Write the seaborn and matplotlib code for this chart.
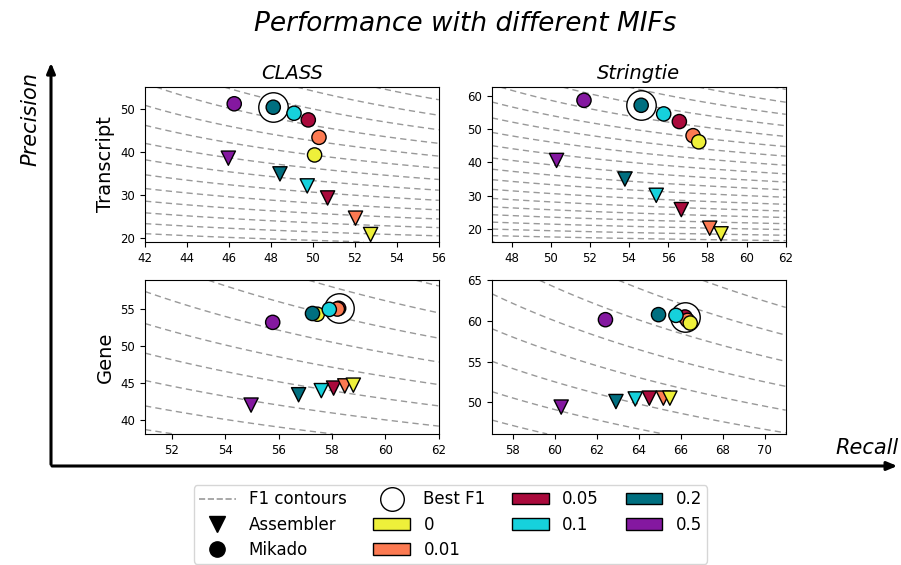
import numpy as np
import pandas as pd
import matplotlib
matplotlib.use("Agg")
import matplotlib.pyplot as plt
import seaborn as sns
from matplotlib.lines import Line2D
from matplotlib.patches import Patch

# MIF levels and their colours
mifs = ["0", "0.01", "0.05", "0.1", "0.2", "0.5"]
mif_colors = ["#eef03a", "#fc7a52", "#aa0a3c", "#16d1dc", "#006f80", "#8418a0"]

# recall / precision per MIF (order as in mifs)
class_tx_asm_rec = [52.75, 52.03, 50.70, 49.73, 48.43, 45.97]
class_tx_asm_pre = [20.8, 24.6, 29.3, 32.1, 34.9, 38.55]
class_tx_mik_rec = [50.08, 50.29, 49.78, 49.10, 48.11, 46.25]
class_tx_mik_pre = [39.3, 43.4, 47.45, 49.0, 50.4, 51.2]

str_tx_asm_rec = [58.70, 58.12, 56.67, 55.39, 53.79, 50.30]
str_tx_asm_pre = [18.5, 20.2, 25.8, 30.1, 35.0, 40.6]
str_tx_mik_rec = [57.56, 57.27, 56.57, 55.77, 54.62, 51.70]
str_tx_mik_pre = [46.2, 48.05, 52.3, 54.6, 57.2, 58.7]

class_gene_asm_rec = [58.80, 58.48, 58.06, 57.60, 56.75, 54.97]
class_gene_asm_pre = [44.7, 44.6, 44.3, 43.96, 43.4, 42.0]
class_gene_mik_rec = [57.45, 58.20, 58.25, 57.90, 57.27, 55.78]
class_gene_mik_pre = [54.3, 55.0, 55.1, 54.95, 54.4, 53.2]

str_gene_asm_rec = [65.48, 65.17, 64.50, 63.83, 62.91, 60.30]
str_gene_asm_pre = [50.5, 50.5, 50.5, 50.4, 50.08, 49.4]
str_gene_mik_rec = [66.45, 66.32, 66.20, 65.77, 64.94, 62.41]
str_gene_mik_pre = [59.74, 60.07, 60.48, 60.68, 60.77, 60.15]

# which MIF gives the best F1 among Mikado runs
best_mif = {"class_tx": "0.2", "str_tx": "0.2", "class_gene": "0.05", "str_gene": "0.05"}

panels = [
    ("class_tx", "CLASS", "Transcript", (42, 56), (19.1, 55.1), np.arange(42, 57, 2),
     class_tx_asm_rec, class_tx_asm_pre, class_tx_mik_rec, class_tx_mik_pre),
    ("str_tx", "Stringtie", None, (47, 62), (16.1, 62.7), np.arange(48, 63, 2),
     str_tx_asm_rec, str_tx_asm_pre, str_tx_mik_rec, str_tx_mik_pre),
    ("class_gene", None, "Gene", (51, 62), (38.1, 58.9), np.arange(52, 63, 2),
     class_gene_asm_rec, class_gene_asm_pre, class_gene_mik_rec, class_gene_mik_pre),
    ("str_gene", None, None, (57, 71), (46.1, 65), np.arange(58, 71, 2),
     str_gene_asm_rec, str_gene_asm_pre, str_gene_mik_rec, str_gene_mik_pre),
]

# drawing order for overlapping points
draw_order = ["0.05", "0.01", "0", "0.1", "0.2", "0.5"]

sns.set_style("ticks", {"axes.edgecolor": "black", "text.color": "black",
                        "xtick.color": "black", "ytick.color": "black",
                        "axes.labelcolor": "black"})
plt.rcParams['font.family'] = ['DejaVu Sans']

fig = plt.figure(figsize=(9.01, 5.65), dpi=100)
positions = [
    [0.161, 0.572, 0.326, 0.274],
    [0.546, 0.572, 0.326, 0.274],
    [0.161, 0.232, 0.326, 0.272],
    [0.546, 0.232, 0.326, 0.272],
]
palette = dict(zip(mifs, mif_colors))

for pos, (key, title, ylab, xlim, ylim, xticks, ar, ap, mr, mp) in zip(positions, panels):
    ax = fig.add_axes(pos)
    # F1 contours
    gx, gy = np.meshgrid(np.linspace(xlim[0], xlim[1], 200), np.linspace(ylim[0], ylim[1], 200))
    f1 = 2 * gx * gy / (gx + gy)
    ax.contour(gx, gy, f1, levels=np.arange(0, 101, 2), colors="#999999",
               linestyles=[(0, (4.5, 3))], linewidths=1.0, zorder=1)

    df = pd.DataFrame({
        "recall": ar + mr,
        "precision": ap + mp,
        "mif": mifs * 2,
        "method": ["Assembler"] * 6 + ["Mikado"] * 6,
    })
    df["rank"] = df["mif"].map({m: i for i, m in enumerate(draw_order)})
    df = df.sort_values(["method", "rank"])

    best = df[(df["method"] == "Mikado") & (df["mif"] == best_mif[key])]
    ax.scatter(best["recall"], best["precision"], s=450, facecolor="white",
               edgecolor="black", linewidth=1.0, zorder=2)
    sns.scatterplot(data=df, x="recall", y="precision", hue="mif", style="method",
                    palette=palette, markers={"Assembler": "v", "Mikado": "o"},
                    s=105, edgecolor="black", linewidth=1.0, legend=False, ax=ax, zorder=3)

    ax.set_xlim(xlim)
    ax.set_ylim(ylim)
    ax.set_xticks(xticks)
    ax.tick_params(labelsize=8.5, length=3.5)
    ax.set_xlabel("")
    ax.set_ylabel(ylab if ylab else "", fontsize=14)
    if title:
        ax.set_title(title, fontsize=14, style="italic", pad=6)

# big axis arrows
bg = fig.add_axes([0, 0, 1, 1], zorder=-1)
bg.set_axis_off()
bg.set_xlim(0, 1)
bg.set_ylim(0, 1)
y0 = 1 - 466 / 565
x0 = 51 / 901
bg.annotate("", xy=(x0, 1 - 60 / 565), xytext=(x0, y0 - 0.002),
            arrowprops=dict(arrowstyle="-|>,head_length=0.6,head_width=0.25", lw=2.2, color="black"))
bg.annotate("", xy=(0.999, y0), xytext=(x0 - 0.002, y0),
            arrowprops=dict(arrowstyle="-|>,head_length=0.6,head_width=0.25", lw=2.2, color="black"))

fig.text(0.034, 0.79, "Precision", rotation=90, ha="center", va="center",
         fontsize=15, style="italic")
fig.text(0.962, 0.207, "Recall", ha="center", va="center", fontsize=15, style="italic")
fig.text(0.516, 0.958, "Performance with different MIFs", ha="center", va="center",
         fontsize=19, style="italic")

handles = [
    Line2D([], [], color="#999999", linestyle="--", linewidth=1.2),
    Line2D([], [], marker="v", color="black", linestyle="none", markersize=11),
    Line2D([], [], marker="o", color="black", linestyle="none", markersize=11),
    Line2D([], [], marker="o", markerfacecolor="white", markeredgecolor="black",
           linestyle="none", markersize=17),
] + [Patch(facecolor=c, edgecolor="black") for c in mif_colors]
labels = ["F1 contours", "Assembler", "Mikado", "Best F1"] + mifs

fig.legend(handles, labels, ncol=4, loc="upper center",
           bbox_to_anchor=(0.5, 1 - 477 / 565), fontsize=12, frameon=True,
           handlelength=2.2, columnspacing=1.6, labelspacing=0.43, borderpad=0.3)

fig.savefig("out.png", dpi=100)
